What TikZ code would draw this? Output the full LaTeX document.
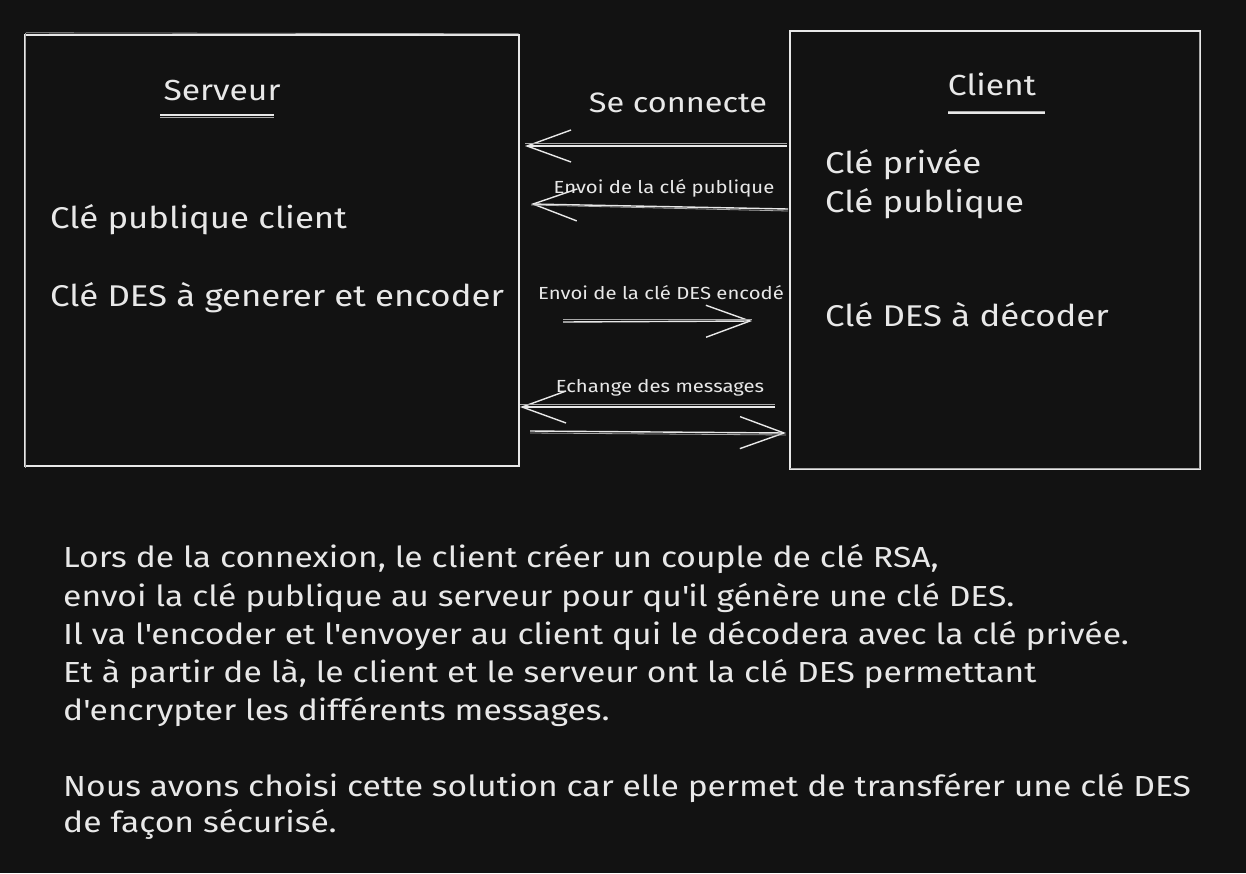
\documentclass[tikz,border=0pt]{standalone}
\usepackage{fontspec}
\setmainfont{Fira Sans}[FakeStretch=1.16]
\usetikzlibrary{arrows.meta}
\definecolor{bg}{HTML}{121212}
\definecolor{ink}{HTML}{E8E8E8}
\newcommand{\sq}{\textquotesingle}
\begin{document}
\begin{tikzpicture}[x=1pt,y=-1pt,
  sk/.style={draw=ink,line width=1.4pt},
  sk2/.style={draw=ink!70!bg,line width=0.8pt},
  box/.style={sk,rectangle,inner sep=0pt},
  arr/.style={sk,-{Straight Barb[length=44pt,width=32pt,line width=1.4pt]}},
  big/.style={text=ink,inner sep=0pt,font=\fontsize{29}{36}\selectfont},
  boxtxt/.style={text=ink,inner sep=0pt,font=\fontsize{30}{36}\selectfont},
  small/.style={text=ink,inner sep=0pt,font=\fontsize{17.5}{22}\selectfont},
  body/.style={text=ink,inner sep=0pt,font=\fontsize{29}{38}\selectfont}]
\useasboundingbox (0,0) rectangle (1246,873);
\fill[bg] (0,0) rectangle (1246,873);
% boxes
\node[box,minimum width=494pt,minimum height=431pt] (srv) at (272,250.5) {};
\draw[sk2] ([shift={(1.5,-1.5)}]srv.north west) -- ([shift={(-1,-0.5)}]srv.north east);
\draw[sk2] ([shift={(1.5,-1.5)}]srv.north west) -- ([shift={(1.5,1)}]srv.south west);
\node[box,minimum width=410pt,minimum height=438pt] (cli) at (995,250) {};
\draw[sk2] ([shift={(-1.5,2)}]cli.north east) -- ([shift={(-1.5,-1)}]cli.south east);
\draw[sk2] ([shift={(1,-1.5)}]cli.south west) -- ([shift={(-1,-1.5)}]cli.south east);
% titles
\node[big,anchor=base] (tsrv) at (222,100) {Serveur};
\coordinate (u1a) at (160,115); \coordinate (u1b) at (274,115);
\draw[sk] (u1a) -- (u1b);
\draw[sk2] ([yshift=-2]u1a) -- ([yshift=-2]u1b);
\node[big,anchor=base] (tcli) at (992,95) {Client};
\coordinate (u2a) at (948,113); \coordinate (u2b) at (1045,113);
\draw[sk] (u2a) -- (u2b);
\draw[sk2] ([yshift=1.5]u2a) -- ([yshift=1.5]u2b);
% box texts
\node[boxtxt,anchor=base west] (s1) at (50,228) {Clé publique client};
\node[boxtxt,anchor=base west] (s2) at (50,306) {Clé DES à generer et encoder};
\node[boxtxt,anchor=base west] (c1) at (825,173) {Clé privée};
\node[boxtxt,anchor=base west] (c2) at (825,212) {Clé publique};
\node[boxtxt,anchor=base west] (c3) at (825,326) {Clé DES à décoder};
% arrow labels
\node[text=ink,inner sep=0pt,font=\fontsize{28}{34}\selectfont,anchor=base] (l0) at (678,112) {Se connecte};
\node[small,anchor=base] (l1) at (664,193) {Envoi de la clé publique};
\node[small,anchor=base] (l2) at (661,299) {Envoi de la clé DES encodé};
\node[small,anchor=base] (l3) at (660,392) {Echange des messages};
% arrows
\coordinate (a1s) at (787,146); \coordinate (a1e) at (525,146);
\draw[arr] (a1s) -- (a1e);
\draw[sk2] ([yshift=3]a1s) -- ([yshift=3]a1e);
\coordinate (a2s) at (788,209); \coordinate (a2e) at (531,204);
\draw[arr] (a2s) -- (a2e);
\draw[sk2] ([yshift=-2]a2s) -- ([yshift=-1]a2e);
\coordinate (a3s) at (563,322); \coordinate (a3e) at (752,321);
\draw[arr] (a3s) -- (a3e);
\draw[sk2] ([yshift=3]a3s) -- ([yshift=2]a3e);
\coordinate (a4s) at (775,407); \coordinate (a4e) at (520,407);
\draw[arr] (a4s) -- (a4e);
\draw[sk2] ([yshift=3]a4s) -- ([yshift=3]a4e);
\coordinate (a5s) at (530,431); \coordinate (a5e) at (786,433);
\draw[arr] (a5s) -- (a5e);
\draw[sk2] ([yshift=-2]a5s) -- ([yshift=-2]a5e);
% body text
\node[body,anchor=base west] (p1) at (63,567) {Lors de la connexion, le client créer un couple de clé RSA,};
\node[body,anchor=base west] (p2) at (63,606) {envoi la clé publique au serveur pour qu\sq il génère une clé DES.};
\node[body,anchor=base west] (p3) at (63,644) {Il va l\sq encoder et l\sq envoyer au client qui le décodera avec la clé privée.};
\node[body,anchor=base west] (p4) at (63,682) {Et à partir de là, le client et le serveur ont la clé DES permettant};
\node[body,anchor=base west] (p5) at (63,720) {d\sq encrypter les différents messages.};
\node[body,anchor=base west] (p6) at (63,796) {Nous avons choisi cette solution car elle permet de transférer une clé DES};
\node[body,anchor=base west] (p7) at (63,832) {de façon sécurisé.};
\end{tikzpicture}
\end{document}
